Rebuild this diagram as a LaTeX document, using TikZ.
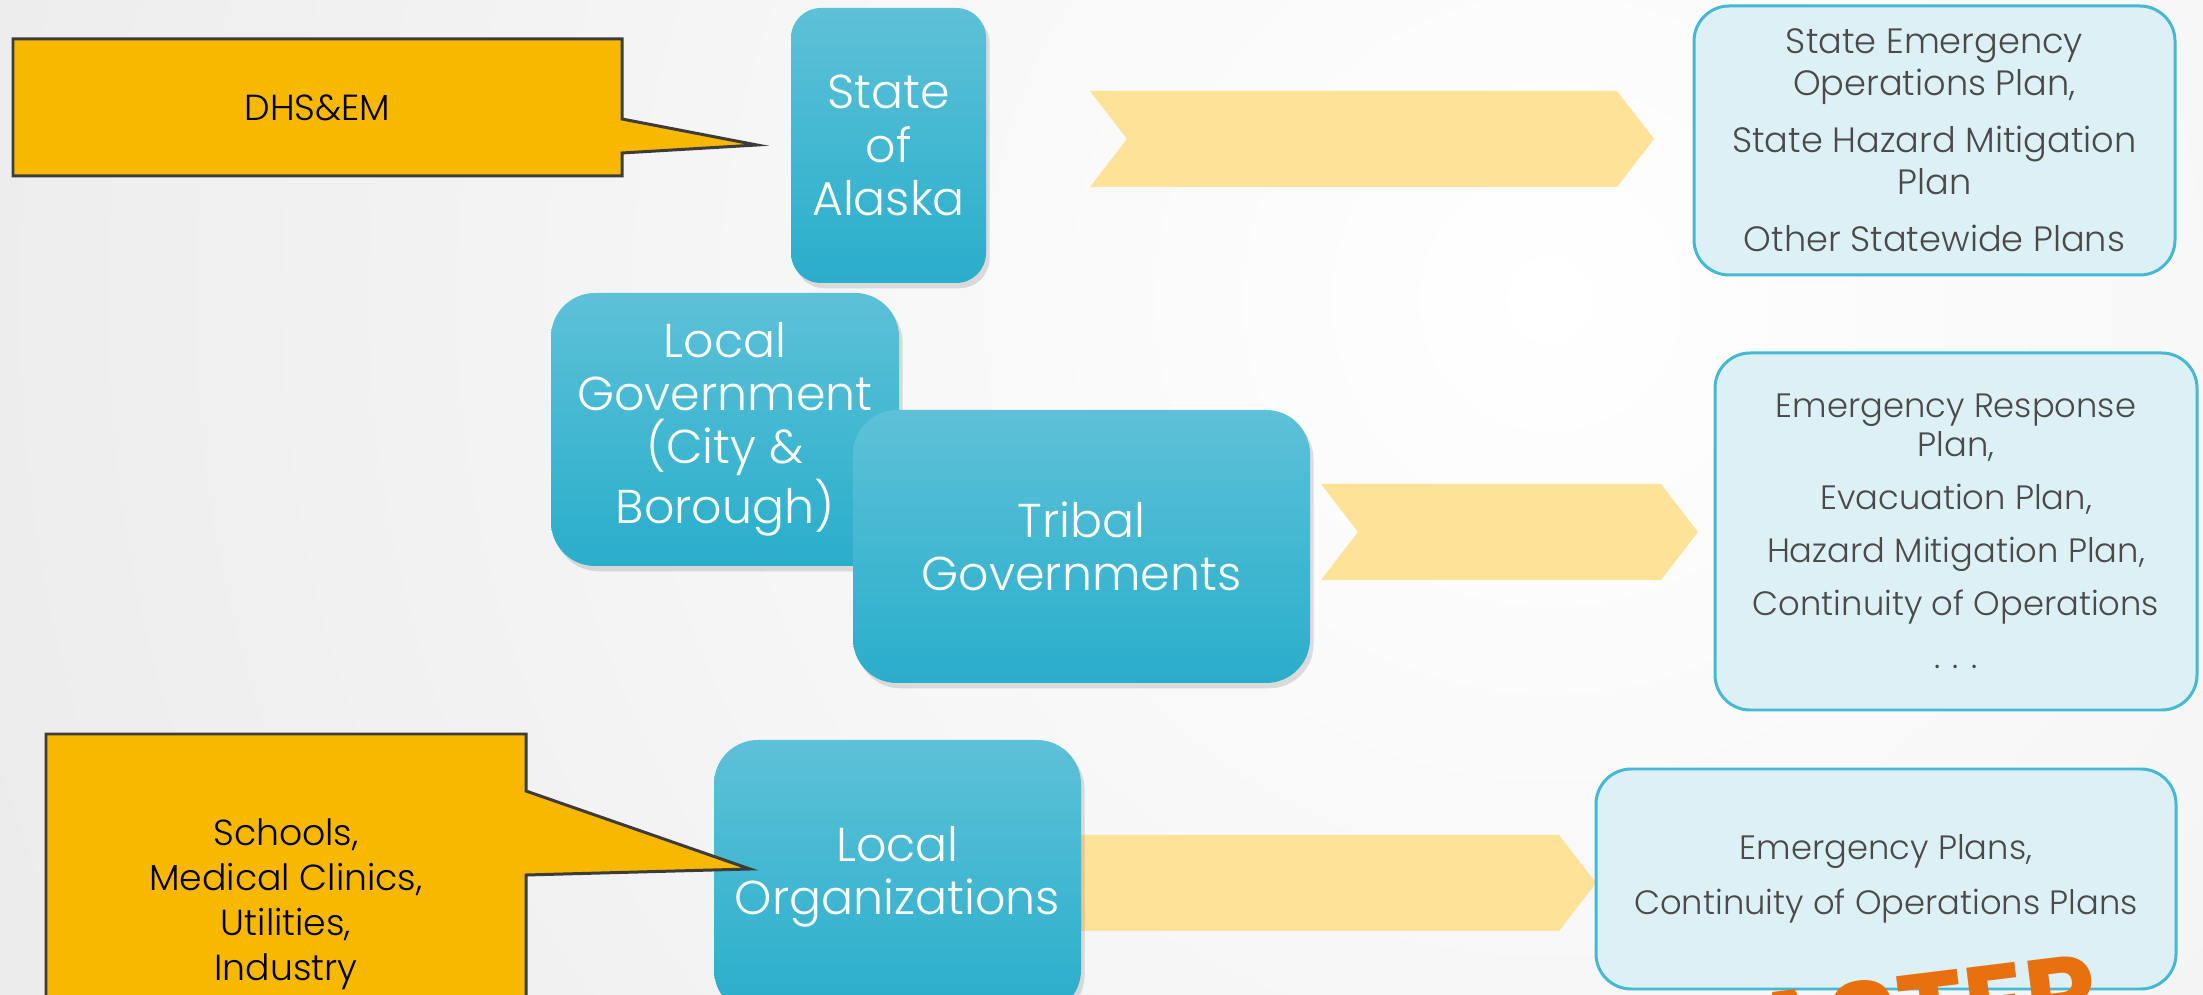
\documentclass[tikz,border=0pt]{standalone}
\usepackage{fontspec}
\setmainfont{Poppins}
\IfFontExistsTF{Poppins Light}{\newfontfamily\lightfont{Poppins Light}}{\newfontfamily\lightfont{Poppins}}
\usepackage{tikz}
\usetikzlibrary{shadows}
\definecolor{tiertop}{HTML}{5DC1D8}
\definecolor{tiermid}{HTML}{3BBCDA}
\definecolor{tierbot}{HTML}{29AECB}
\definecolor{planfill}{HTML}{DCF0F6}
\definecolor{planline}{HTML}{45B8D4}
\definecolor{plantext}{HTML}{4A4A4A}
\definecolor{bubblefill}{HTML}{F9B800}
\definecolor{bubbleline}{HTML}{3C3C3C}
\definecolor{chevyellow}{HTML}{FDE298}
\definecolor{disorange}{HTML}{E8700E}
\tikzset{
  tierbox/.style={rounded corners=12.5pt, inner sep=0pt, align=center, text=white,
    font=\lightfont\fontsize{13.5}{15.1}\selectfont,
    top color=tiertop, middle color=tiermid, bottom color=tierbot,
    drop shadow={shadow xshift=1pt, shadow yshift=-1.5pt, opacity=0.25}},
  planbox/.style={draw=planline, line width=0.85pt, fill=planfill, rounded corners=10pt,
    inner sep=0pt, align=center, text=plantext, font=\lightfont\fontsize{9.6}{11.1}\selectfont},
  chevfill/.style={fill=chevyellow},
  bubble/.style={fill=bubblefill, draw=bubbleline, line width=0.85pt, line join=miter},
  bubbletext/.style={align=center, text=black, font=\lightfont\fontsize{10.3}{12.8}\selectfont}
}

\begin{document}
\begin{tikzpicture}[x=0.01cm, y=-0.01cm]

  \newcommand\Px{0.01cm}
  \newcommand\chev[3]{\fill[chevfill] (#1,#3-48) -- (#2-37,#3-48) -- (#2,#3)
    -- (#2-37,#3+48) -- (#1,#3+48) -- (#1+37,#3) -- cycle;}

  \useasboundingbox (0,0) rectangle (2203,995);
  \clip (0,0) rectangle (2203,995);
  \shade[inner color=white, outer color=black!13] (1550,300) circle (2900);

  \chev{1090}{1654}{139}
  \chev{1321}{1698}{532}
  \chev{1040}{1596}{883}

  \node[tierbox, minimum width=195*\Px, minimum height=275*\Px, rounded corners=8.5pt]
    (state) at (888.5,145.5) {State\\of\\Alaska};
  \node[tierbox, minimum width=348*\Px, minimum height=273*\Px]
    (localgov) at (725,429.5) {Local\\Government\\(City \&\\Borough)};
  \node[tierbox, minimum width=457*\Px, minimum height=273*\Px]
    (tribal) at (1081.5,546.5) {Tribal\\Governments};
  \node[tierbox, minimum width=367*\Px, minimum height=274*\Px]
    (localorg) at (897.5,877) {Local\\Organizations};

  \node[planbox, minimum width=481*\Px, minimum height=269*\Px, font=\lightfont\fontsize{10}{11.9}\selectfont]
    (stateplans) at (1934.5,140.5)
    {State Emergency\\Operations Plan,\\[4.3pt]State Hazard Mitigation\\Plan\\[4.3pt]Other Statewide Plans};
  \node[planbox, minimum width=482*\Px, minimum height=357*\Px]
    (localplans) at (1956,531.5)
    {Emergency Response\\Plan,\\[4pt]Evacuation Plan,\\[4pt]Hazard Mitigation Plan,\\[4pt]Continuity of Operations\\[4pt]. . .};
  \node[planbox, minimum width=580*\Px, minimum height=220*\Px]
    (orgplans) at (1886,879) {Emergency Plans,\\[4.4pt]Continuity of Operations Plans};

  \draw[bubble] (13,39) -- (622,39) -- (622,119) -- (757,145) -- (622,153) -- (622,176) -- (13,176) -- cycle;
  \node[bubbletext] (dhs) at (317.5,107.5) {DHS\&EM};
  \draw[bubble] (46,734) -- (526,734) -- (526,791) -- (750,869) -- (526,875) -- (526,1080) -- (46,1080) -- cycle;
  \node[bubbletext] (sectors) at (286,904) {Schools,\\Medical Clinics,\\Utilities,\\Industry};

  \node[anchor=base, rotate=7, inner sep=0pt, text=disorange, font=\fontsize{32}{34}\selectfont\bfseries]
    (disaster) at (1928,1053) {ASTER};

\end{tikzpicture}
\end{document}
